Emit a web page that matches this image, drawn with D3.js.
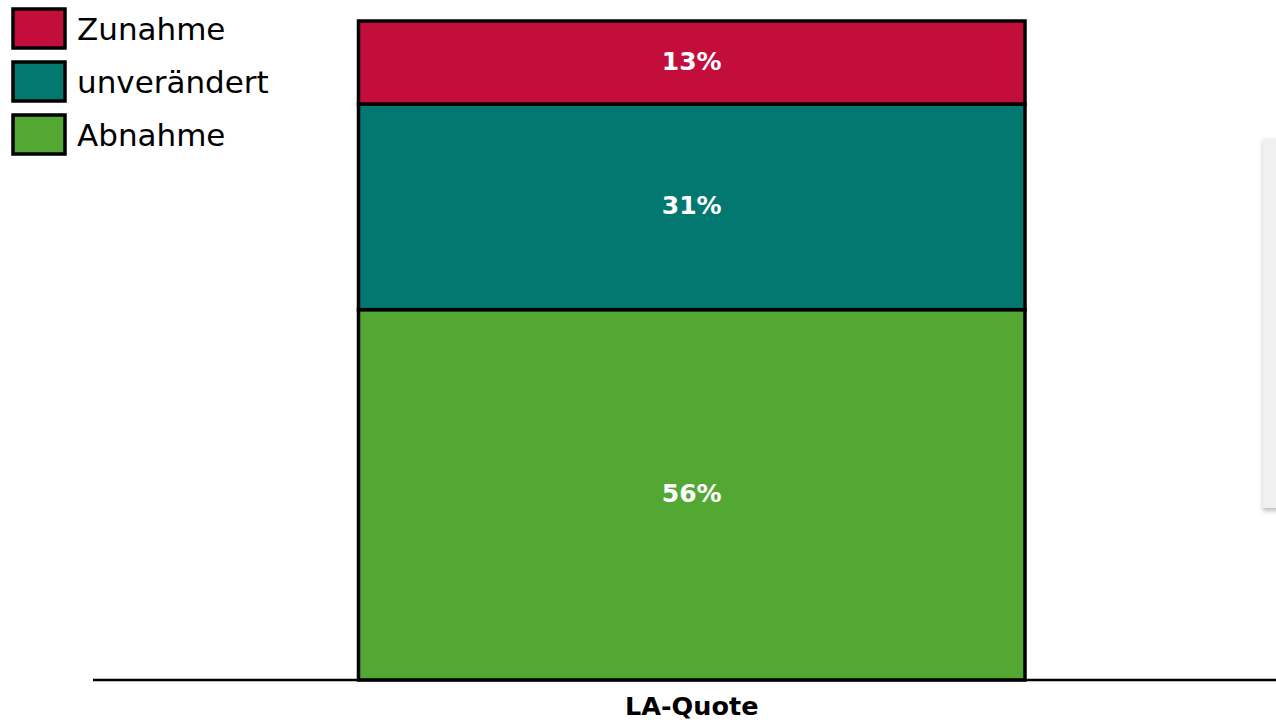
<!DOCTYPE html>
<html><head><meta charset="utf-8">
<script src="https://cdn.jsdelivr.net/npm/d3@7"></script>
<style>html,body{margin:0;padding:0;background:#fff;overflow:hidden}</style>
</head><body>
<svg id="chart" width="1276" height="723"></svg>
<script>
const categories = ["LA-Quote"];
const seriesNames = ["Abnahme", "unverändert", "Zunahme"];
const seriesValues = [56.2, 31.2, 12.6];
const seriesLabels = ["56%", "31%", "13%"];
const seriesColors = ["#52a832", "#037870", "#c30e3c"];
const legendOrder = ["Zunahme", "unverändert", "Abnahme"];

const svg = d3.select("#chart");
const W = 1276, H = 723;
const margin = {top: 21, bottom: 43, left: 93, right: 0};
const baseY = H - margin.bottom; // 680

const x = d3.scaleBand().domain(categories).range([358.5, 1025]).paddingInner(0).paddingOuter(0);
const y = d3.scaleLinear().domain([0, 100]).range([baseY, margin.top]);

// faint panel at right edge
const defs = svg.append("defs");
const f = defs.append("filter").attr("id","sh").attr("x","-50%").attr("y","-10%").attr("width","200%").attr("height","120%");
f.append("feDropShadow").attr("dx",0).attr("dy",3).attr("stdDeviation",2).attr("flood-color","#000").attr("flood-opacity",0.25);
svg.append("rect").attr("x",1263).attr("y",138).attr("width",20).attr("height",370)
  .attr("fill","#f0f0f0").attr("filter","url(#sh)");

// stacked data
const stackData = [{cat: categories[0]}];
seriesNames.forEach((s,i)=> stackData[0][s] = seriesValues[i]);
const stack = d3.stack().keys(seriesNames)(stackData);

const g = svg.append("g");
stack.forEach((layer, i) => {
  layer.forEach(d => {
    g.append("rect")
      .attr("x", x(d.data.cat))
      .attr("y", y(d[1]))
      .attr("width", x.bandwidth())
      .attr("height", y(d[0]) - y(d[1]))
      .attr("fill", seriesColors[i])
      .attr("stroke", "#000")
      .attr("stroke-width", 3.5);
    g.append("text")
      .attr("x", x(d.data.cat) + x.bandwidth()/2)
      .attr("y", (y(d[0]) + y(d[1]))/2 - 1.5)
      .attr("text-anchor","middle")
      .attr("dominant-baseline","central")
      .attr("fill","#fff")
      .attr("font-family","DejaVu Sans, sans-serif")
      .attr("font-weight","bold")
      .attr("font-size",25)
      .text(seriesLabels[i]);
  });
});

// x axis
const xAxis = d3.axisBottom(x).tickSize(0).tickPadding(0);
const ax = svg.append("g").attr("transform", `translate(0,${baseY})`).call(xAxis);
ax.select(".domain").remove();
svg.append("line").attr("x1",93).attr("x2",W).attr("y1",baseY).attr("y2",baseY)
  .attr("stroke","#000").attr("stroke-width",2.5);
ax.selectAll(".tick text")
  .attr("y", 35).attr("dy", 0)
  .attr("font-family","DejaVu Sans, sans-serif")
  .attr("font-weight","bold")
  .attr("font-size",25.5)
  .attr("fill","#000");

// legend
const leg = svg.append("g");
legendOrder.forEach((name, i) => {
  const idx = seriesNames.indexOf(name);
  const yy = 9 + i*53;
  leg.append("rect").attr("x",13).attr("y",yy).attr("width",52).attr("height",39)
    .attr("fill", seriesColors[idx]).attr("stroke","#000").attr("stroke-width",3.5);
  leg.append("text").attr("x",77).attr("y", yy + 31)
    .attr("font-family","DejaVu Sans, sans-serif")
    .attr("font-size",31).attr("fill","#000").text(name);
});
</script>
</body></html>
